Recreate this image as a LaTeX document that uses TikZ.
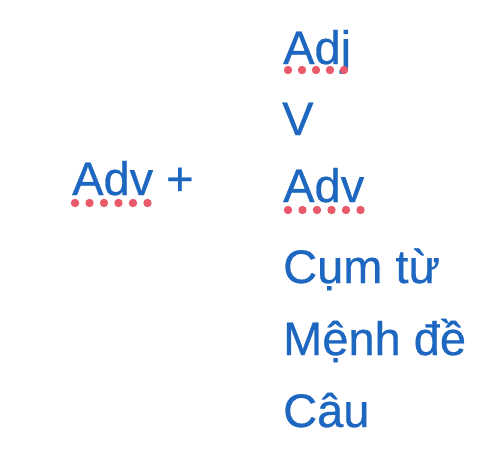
\documentclass[tikz,border=0pt]{standalone}
\usepackage{fontspec}
\setmainfont{Liberation Sans}
\newfontfamily\wordfont[FakeBold=0.6]{Liberation Sans}
\definecolor{txtblue}{HTML}{1E67C0}
\definecolor{dotred}{HTML}{E85A6A}
\tikzset{
  word/.style={anchor=base west, inner sep=0pt, text=txtblue, font=\wordfont\fontsize{47}{50}\selectfont},
  reddot/.style={fill=dotred}
}
\begin{document}
\begin{tikzpicture}[x=1pt,y=-1pt]
\useasboundingbox[fill=white] (0,0) rectangle (504,464);
\node[word] (advl) at (72,195) {Adv +};
\node[word] (adj) at (283,64) {Adj};
\node[word] (v) at (282,135) {V};
\node[word] (advr) at (283,202) {Adv};
\node[word] (cum) at (283,283) {Cụm từ};
\node[word] (menh) at (283,355) {Mệnh đề};
\node[word] (cau) at (283,427) {Câu};
\foreach \i in {0,...,5}
  \fill[reddot] ([xshift=\i*14.5pt+3pt, yshift=-8pt]advl.base west) circle (4.2pt);
\foreach \i in {0,...,4}
  \fill[reddot] ([xshift=\i*14pt+5pt, yshift=-6pt]adj.base west) circle (4.2pt);
\foreach \i in {0,...,5}
  \fill[reddot] ([xshift=\i*14.5pt+5pt, yshift=-8pt]advr.base west) circle (4.2pt);
\end{tikzpicture}
\end{document}
